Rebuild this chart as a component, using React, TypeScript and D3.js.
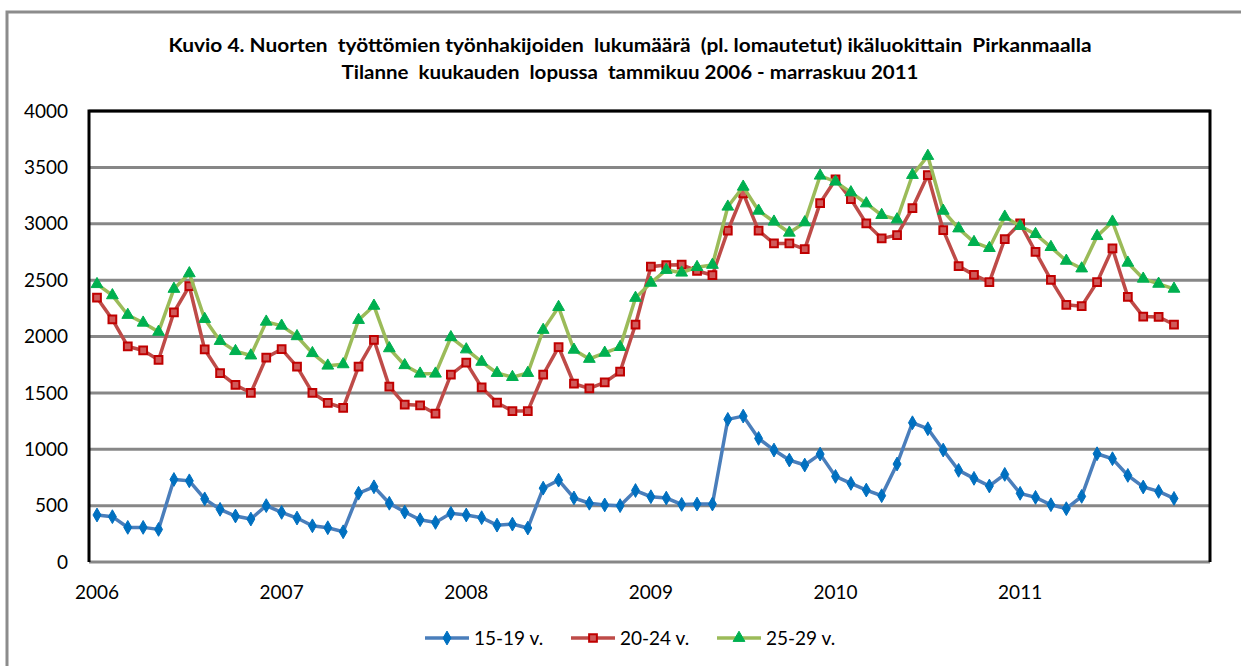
import * as d3 from "d3";
import React from "react";

// kuukausittaiset luvut tammikuu 2006 - marraskuu 2011
const ageGroups = ["15-19 v.", "20-24 v.", "25-29 v."];

const age15to19 = [
  417, 402, 307, 307, 289, 732, 720, 560, 467, 408, 381, 500,
  440, 390, 321, 304, 268, 610, 667, 521, 443, 375, 351, 432,
  417, 393, 327, 336, 301, 655, 726, 568, 521, 506, 500, 634,
  579, 567, 511, 514, 514, 1265, 1294, 1096, 993, 904, 860, 957,
  759, 697, 638, 588, 869, 1235, 1182, 993, 813, 742, 674, 777,
  609, 573, 508, 473, 582, 960, 916, 768, 665, 626, 564,
];

const age20to24 = [
  2344, 2152, 1912, 1876, 1792, 2215, 2446, 1885, 1675, 1570, 1501, 1813,
  1888, 1732, 1501, 1411, 1366, 1732, 1969, 1556, 1396, 1390, 1315, 1661,
  1769, 1548, 1413, 1339, 1339, 1661, 1906, 1581, 1539, 1593, 1688, 2106,
  2619, 2634, 2637, 2581, 2545, 2938, 3269, 2938, 2825, 2825, 2775, 3183,
  3393, 3219, 3003, 2870, 2899, 3139, 3432, 2944, 2624, 2547, 2482, 2864,
  3003, 2751, 2502, 2281, 2269, 2482, 2781, 2352, 2177, 2174, 2106,
];

const age25to29 = [
  2464, 2365, 2191, 2122, 2041, 2422, 2560, 2155, 1960, 1870, 1831, 2131,
  2095, 2002, 1852, 1741, 1753, 2146, 2272, 1895, 1745, 1670, 1670, 1993,
  1885, 1775, 1676, 1640, 1676, 2058, 2261, 1882, 1801, 1855, 1906, 2342,
  2476, 2590, 2566, 2615, 2635, 3151, 3328, 3115, 3018, 2920, 3012, 3426,
  3373, 3278, 3180, 3077, 3038, 3432, 3601, 3115, 2958, 2837, 2784, 3062,
  2979, 2908, 2793, 2671, 2603, 2890, 3018, 2654, 2512, 2467, 2423,
];

const yearLabels = ["2006", "2007", "2008", "2009", "2010", "2011"];
const yTicks = [0, 500, 1000, 1500, 2000, 2500, 3000, 3500, 4000];

const titleLines = [
  "Kuvio 4. Nuorten  työttömien työnhakijoiden  lukumäärä  (pl. lomautetut) ikäluokittain  Pirkanmaalla",
  "Tilanne  kuukauden  lopussa  tammikuu 2006 - marraskuu 2011",
];
const titleWidths = [923, 577];

const styles = [
  { line: "#4A7EBB", fill: "#0070C0", stroke: "#0070C0", symbol: d3.symbolDiamond, size: 55 },
  { line: "#BE4B48", fill: "#D05A5A", stroke: "#C00000", symbol: d3.symbolSquare, size: 60 },
  { line: "#9BBB59", fill: "#00B050", stroke: "#00B050", symbol: d3.symbolTriangle, size: 60 },
];

const font = "Lato, 'Open Sans', sans-serif";

export default function App() {
  const width = 1241;
  const height = 666;
  const plot = { left: 89, right: 1210, top: 111, bottom: 562 };

  const x = d3.scaleLinear().domain([0, 70]).range([97, 1174]);
  const y = d3.scaleLinear().domain([0, 4000]).range([plot.bottom, plot.top]);

  const series = [age15to19, age20to24, age25to29];
  const line = d3
    .line<number>()
    .x((d, i) => x(i))
    .y((d) => y(d));

  return (
    <svg
      width={width}
      height={height}
      style={{ position: "absolute", left: 0, top: 0, background: "#fff" }}
      fontFamily={font}
    >
      <rect x={7} y={12} width={1260} height={700} fill="#fff" stroke="#8c8c8c" strokeWidth={3} />

      {titleLines.map((t, i) => (
        <text
          key={i}
          x={630}
          y={52 + i * 27}
          textAnchor="middle"
          fontSize={19.5}
          fontWeight="bold"
          textLength={titleWidths[i]}
          lengthAdjust="spacingAndGlyphs"
          xmlSpace="preserve"
          style={{ whiteSpace: "pre" }}
        >
          {t}
        </text>
      ))}

      {/* vaakaviivat */}
      {yTicks.map((t) => (
        <line
          key={t}
          x1={plot.left}
          x2={plot.right}
          y1={y(t)}
          y2={y(t)}
          stroke="#878787"
          strokeWidth={3}
        />
      ))}
      <path
        d={`M${plot.left},${plot.bottom}V${plot.top}H${plot.right}V${plot.bottom}`}
        fill="none"
        stroke="#000"
        strokeWidth={3}
      />

      {yTicks.map((t) => (
        <text key={t} x={68} y={y(t)} dy="0.35em" textAnchor="end" fontSize={19}>
          {t}
        </text>
      ))}
      {yearLabels.map((lab, i) => (
        <text key={lab} x={x(i * 12)} y={592} dy="0.35em" textAnchor="middle" fontSize={19}>
          {lab}
        </text>
      ))}

      {series.map((s, si) => {
        const st = styles[si];
        const sym = d3.symbol().type(st.symbol).size(st.size)();
        return (
          <g key={si}>
            <path d={line(s) || ""} fill="none" stroke={st.line} strokeWidth={3.5} />
            {s.map((v, i) => (
              <path
                key={i}
                d={sym || ""}
                transform={`translate(${x(i)},${y(v)})`}
                fill={st.fill}
                stroke={st.stroke}
                strokeWidth={si === 1 ? 2 : 1}
              />
            ))}
          </g>
        );
      })}

      {/* selite */}
      {ageGroups.map((g, i) => {
        const st = styles[i];
        const lx = 425 + i * 146;
        const sym = d3.symbol().type(st.symbol).size(st.size)();
        return (
          <g key={g} transform={`translate(${lx},638)`}>
            <line x1={0} x2={44} y1={0} y2={0} stroke={st.line} strokeWidth={3.5} />
            <path
              d={sym || ""}
              transform="translate(22,0)"
              fill={st.fill}
              stroke={st.stroke}
              strokeWidth={i === 1 ? 2 : 1}
            />
            <text x={49} y={0} dy="0.35em" fontSize={19}>
              {g}
            </text>
          </g>
        );
      })}
    </svg>
  );
}
